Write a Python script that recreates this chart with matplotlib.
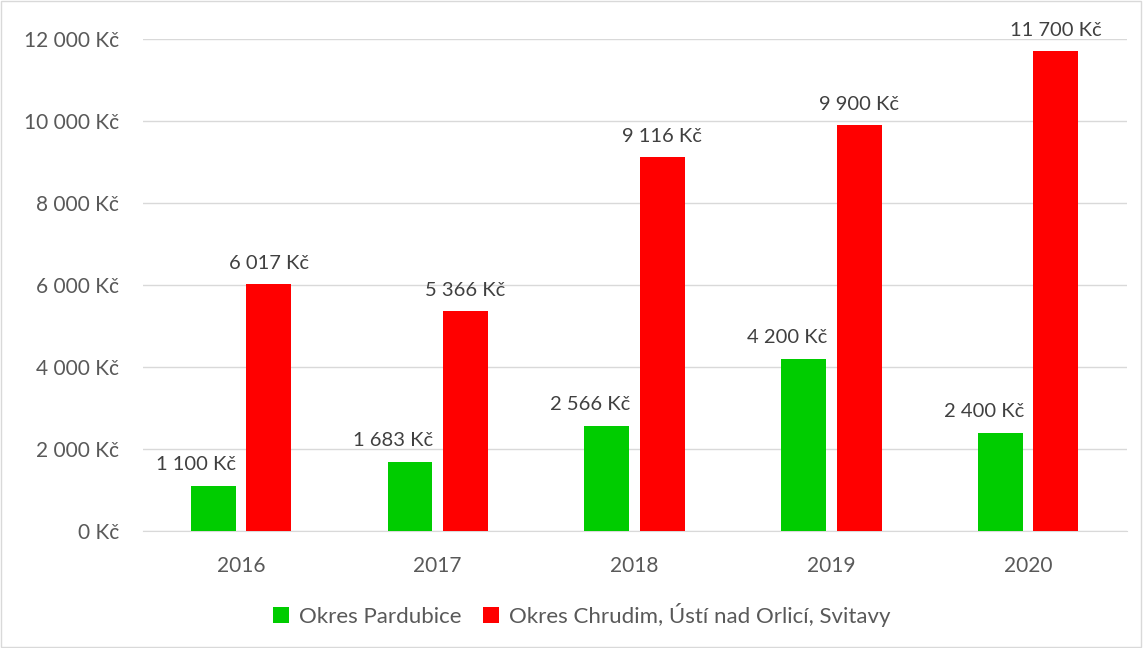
import matplotlib.pyplot as plt
import matplotlib.patches as patches
import numpy as np

# data
years = ["2016", "2017", "2018", "2019", "2020"]
pardubice = [1100, 1683, 2566, 4200, 2400]
ostatni = [6017, 5366, 9116, 9900, 11700]
series_names = ["Okres Pardubice", "Okres Chrudim, Ústí nad Orlicí, Svitavy"]
yticks = [0, 2000, 4000, 6000, 8000, 10000, 12000]

plt.rcParams['font.family'] = ['Lato', 'DejaVu Sans']

def kc(v):
    return f"{v:,.0f}".replace(",", " ") + " Kč"

fig = plt.figure(figsize=(11.43, 6.48), dpi=100)
ax = fig.add_axes([0.1247, 0.1806, 0.8609, 0.759])

x = np.arange(len(years))
w = 0.228
off = 0.141
text_col = "#595959"

b1 = ax.bar(x - off, pardubice, w, color="#00CC00", label=series_names[0], zorder=3)
b2 = ax.bar(x + off, ostatni, w, color="#FF0000", label=series_names[1], zorder=3)

# popisky nad sloupci (zelene jsou v originale posunute doleva)
for bars, shift in ((b1, -0.085), (b2, 0.0)):
    for r in bars:
        ax.annotate(kc(r.get_height()), (r.get_x() + r.get_width() / 2 + shift, r.get_height()),
                    xytext=(0, 9), textcoords="offset points", ha="center", va="bottom",
                    fontsize=14.5, color="#404040")

ax.set_xlim(-0.5, len(years) - 0.5)
ax.set_ylim(0, 12000)
ax.set_yticks(yticks)
ax.set_yticklabels([kc(v) for v in yticks])
ax.set_xticks(x)
ax.set_xticklabels(years)
ax.tick_params(axis="both", length=0, labelsize=15, colors=text_col)
ax.tick_params(axis="x", pad=18)
ax.tick_params(axis="y", pad=17)
ax.grid(axis="y", color="#d9d9d9", linewidth=1, zorder=0)
for s in ["top", "right", "left"]:
    ax.spines[s].set_visible(False)
ax.spines["bottom"].set_color("#d9d9d9")

leg = fig.legend(loc="center", bbox_to_anchor=(0.509, 0.051), ncol=2, frameon=False,
                 fontsize=16, handlelength=0.7, handleheight=0.7, columnspacing=1.0,
                 handletextpad=0.45)
for t in leg.get_texts():
    t.set_color(text_col)

fig.patches.append(patches.Rectangle((0.001, 0.002), 0.997, 0.996, transform=fig.transFigure,
                                     fill=False, edgecolor="#d9d9d9", linewidth=1))

plt.savefig("out.png", dpi=100)
